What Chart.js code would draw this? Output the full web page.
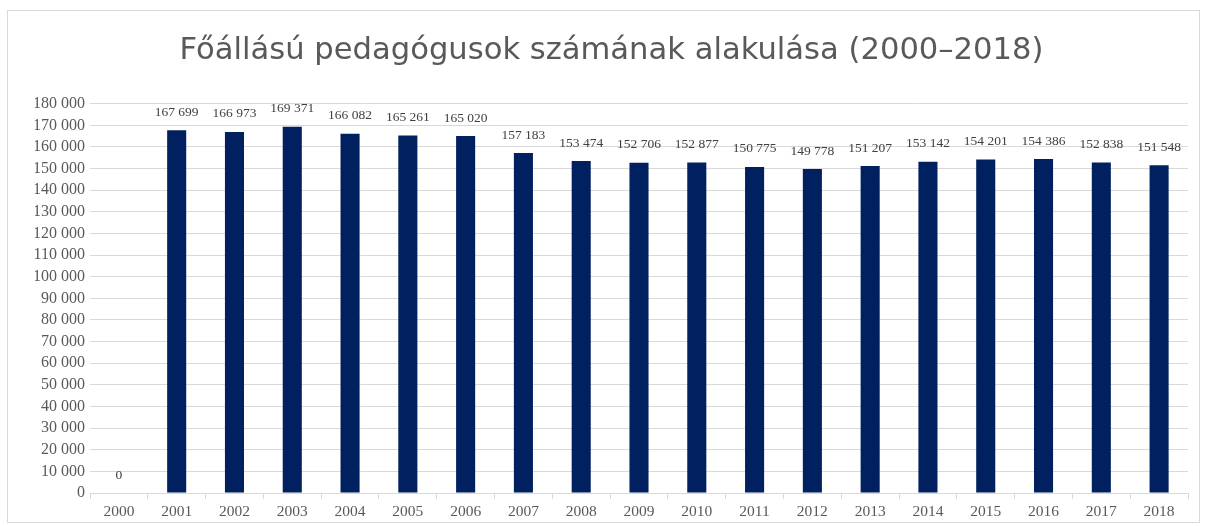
<!DOCTYPE html>
<html>
<head>
<meta charset="utf-8">
<script src="https://cdn.jsdelivr.net/npm/chart.js@4.4.1/dist/chart.umd.min.js"></script>
<style>
  html, body { margin: 0; padding: 0; background: #ffffff; }
  #frame { position: absolute; left: 7px; top: 10px; width: 1191px; height: 511px; border: 1px solid #d9d9d9; }
  #wrap { position: absolute; left: 0; top: 0; width: 1191px; height: 511px; }
</style>
</head>
<body>
<div id="frame"><div id="wrap"><canvas id="c"></canvas></div></div>
<script>
const years = ['2000','2001','2002','2003','2004','2005','2006','2007','2008','2009','2010','2011','2012','2013','2014','2015','2016','2017','2018'];
const teachers = [0,167699,166973,169371,166082,165261,165020,157183,153474,152706,152877,150775,149778,151207,153142,154201,154386,152838,151548];
const chartTitle = 'Főállású pedagógusok számának alakulása (2000–2018)';
const yMax = 180000;
const yStep = 10000;

function fmt(v) { return String(v).replace(/\B(?=(\d{3})+(?!\d))/g, ' '); }

const labelPlugin = {
  id: 'valueLabels',
  afterDatasetsDraw(chart) {
    const ctx = chart.ctx;
    const meta = chart.getDatasetMeta(0);
    ctx.save();
    ctx.font = '13.5px "Liberation Serif", "Times New Roman", serif';
    ctx.fillStyle = '#404040';
    ctx.textAlign = 'center';
    ctx.textBaseline = 'middle';
    meta.data.forEach((bar, i) => {
      ctx.fillText(fmt(chart.data.datasets[0].data[i]), bar.x, bar.y - 18);
    });
    ctx.restore();
  }
};

new Chart(document.getElementById('c'), {
  type: 'bar',
  data: {
    labels: years,
    datasets: [{
      data: teachers,
      backgroundColor: '#002060',
      borderWidth: 0,
      categoryPercentage: 1,
      barPercentage: 0.33
    }]
  },
  options: {
    responsive: true,
    maintainAspectRatio: false,
    animation: false,
    layout: { padding: { left: 27, right: 11, top: 0, bottom: 0 } },
    plugins: {
      legend: { display: false },
      tooltip: { enabled: false },
      title: {
        display: true,
        text: chartTitle,
        color: '#595959',
        font: { family: '"DejaVu Sans", sans-serif', size: 30.6, weight: 'normal' },
        padding: { top: 22, bottom: 34 }
      }
    },
    scales: {
      x: {
        grid: { display: true, drawOnChartArea: false, drawTicks: true, tickLength: 6, color: '#d9d9d9', offset: true },
        border: { display: true, color: '#d9d9d9', width: 1 },
        ticks: { color: '#595959', font: { family: '"Liberation Serif", "Times New Roman", serif', size: 15.5 }, padding: 4, maxRotation: 0, autoSkip: false },
        afterFit(s) { s.height = 29; }
      },
      y: {
        min: 0,
        max: yMax,
        ticks: { stepSize: yStep, autoSkip: false, color: '#595959', font: { family: '"Liberation Serif", "Times New Roman", serif', size: 16 }, padding: 5, callback: v => fmt(v) },
        grid: { color: '#d9d9d9', drawTicks: false, lineWidth: 1 },
        border: { display: false },
        afterFit(s) { s.width = 55; }
      }
    }
  },
  plugins: [labelPlugin]
});
</script>
</body>
</html>
